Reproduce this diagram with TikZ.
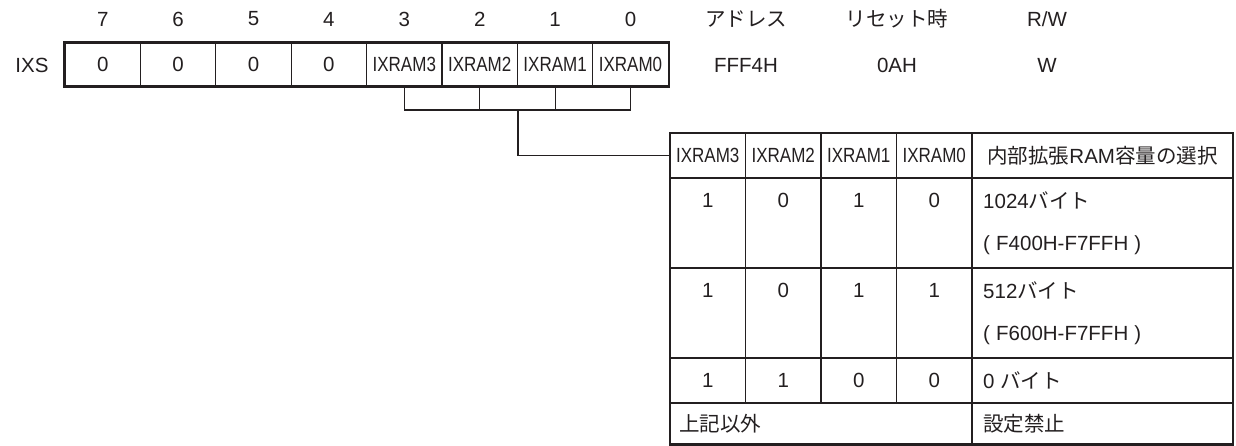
\documentclass[tikz,border=0pt]{standalone}
\usepackage{fontspec}
\setmainfont{Liberation Sans}
\newfontfamily\jpfont{Noto Sans CJK JP}
\definecolor{ink}{HTML}{231F20}
\tikzset{
  txt/.style={font=\fontsize{20.5}{24}\selectfont, text=ink, inner sep=0pt},
  cell/.style={txt, draw=ink, line width=1.2pt, minimum width=75.4pt, minimum height=43pt},
  frame/.style={draw=ink, line width=2.4pt},
  thin/.style={draw=ink, line width=1.2pt},
}
\newcommand{\narrow}[1]{\scalebox{0.83}[1]{#1}}
\newcommand{\range}[1]{(\hspace{0.3em}#1\hspace{0.3em})}
\begin{document}
\begin{tikzpicture}[x=1pt, y=-1pt]
    \useasboundingbox (0,0) rectangle (1236,446);
    \node[txt] (ixs) at (32,65) {IXS};
    \foreach \i/\t in {7/0, 6/0, 5/0, 4/0, 3/\narrow{IXRAM3}, 2/\narrow{IXRAM2}, 1/\narrow{IXRAM1}, 0/\narrow{IXRAM0}} {
        \node[cell] (b\i) at ({102.7+75.4*(7-\i)}, 64.5) {\t};
        \node[txt] (n\i) at ({102.7+75.4*(7-\i)}, 19) {\i};
    }
    \draw[frame] (b7.north west) rectangle (b0.south east);
    \node[txt] (adr) at (746,19) {\jpfont アドレス};
    \node[txt] (adrv) at (746,65) {FFF4H};
    \node[txt] (rst) at (897,19) {\jpfont リセット時};
    \node[txt] (rstv) at (897,65) {0AH};
    \node[txt] (rw) at (1047,19) {R/W};
    \node[txt] (rwv) at (1047,65) {W};
    \coordinate (brk) at (518,110);
    \draw[thin] (b3.south) |- (brk) -| (b0.south);
    \foreach \i in {2,1}
        \draw[thin] (b\i.south) -- (b\i.south |- brk);
    \foreach \i/\x in {3/707.75, 2/783.25, 1/858.75, 0/934.25}
        \node[cell, minimum height=45pt] (h\i) at (\x,155.5) {\narrow{IXRAM\i}};
    \node[cell, minimum width=261pt, minimum height=45pt] (hsel) at (1102.5,155.5) {{\jpfont 内部拡張}RAM{\jpfont 容量の選択}};
    \draw[thin] (brk) |- (h3.west);
    \draw[thin] (670,268) -- (1233,268) (670,358) -- (1233,358) (670,403) -- (1233,403);
    \foreach \x in {745.5, 821, 896.5}
        \draw[thin] (\x,178) -- (\x,403);
    \draw[frame] (670,133) rectangle (1233,444.5);
    \draw[frame] (670,178) -- (1233,178);
    \draw[frame] (972,133) -- (972,444.5);
    \foreach \r/\y/\va/\vb/\vc/\vd in {1/200.5/1/0/1/0, 2/290.5/1/0/1/1, 3/380.5/1/1/0/0}
        \foreach \i/\x/\v in {3/707.75/\va, 2/783.25/\vb, 1/858.75/\vc, 0/934.25/\vd}
            \node[txt] (v\r\i) at (\x,\y) {\v};
    \node[txt, anchor=west] (s1) at (983,200.5) {1024{\jpfont バイト}};
    \node[txt, anchor=west] (s1b) at (983,245.5) {\range{F400H-F7FFH}};
    \node[txt, anchor=west] (s2) at (983,290.5) {512{\jpfont バイト}};
    \node[txt, anchor=west] (s2b) at (983,335.5) {\range{F600H-F7FFH}};
    \node[txt, anchor=west] (s3) at (983,380.5) {0 {\jpfont バイト}};
    \node[txt, anchor=west] (s4) at (679,424) {\jpfont 上記以外};
    \node[txt, anchor=west] (s4b) at (983,424) {\jpfont 設定禁止};
\end{tikzpicture}
\end{document}
